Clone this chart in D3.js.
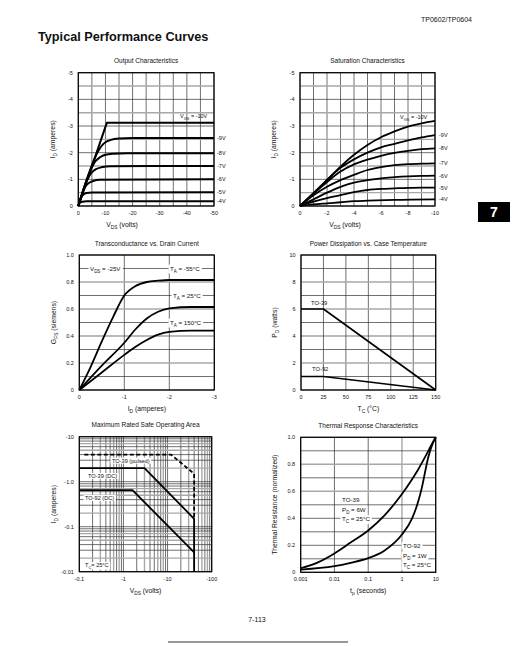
<!DOCTYPE html>
<html><head><meta charset="utf-8">
<script src="https://cdn.jsdelivr.net/npm/d3@7"></script>
<style>
body{margin:0;background:#fff}
svg{display:block}
text{font-family:"Liberation Sans",Arial,Helvetica,sans-serif;fill:#111}
</style></head>
<body><svg id="c" width="515" height="646"></svg>
<script>
// ---------- Page texts ----------
const pageHeader = "TP0602/TP0604";
const pageTitle = "Typical Performance Curves";
const pageNumber = "7-113";
const tabLabel = "7";

// ---------- Chart 1: Output Characteristics ----------
const c1XTicks = [0, -10, -20, -30, -40, -50];
const c1YTicks = [0, -1, -2, -3, -4, -5];
const c1Names = ["V{GS} = -10V", "-9V", "-8V", "-7V", "-6V", "-5V", "-4V"];
const c1V10 = [[0,0],[-10.5,-3.12],[-50,-3.12]];
const c1V9 = [[0,0],[-6,-1.78],[-7,-2.0],[-8,-2.17],[-9,-2.3],[-10,-2.39],[-12,-2.48],[-15,-2.53],[-20,-2.55],[-50,-2.55]];
const c1V8 = [[0,0],[-4.5,-1.34],[-5.5,-1.55],[-6.5,-1.7],[-8,-1.83],[-10,-1.92],[-13,-1.96],[-18,-1.98],[-50,-1.98]];
const c1V7 = [[0,0],[-3.3,-0.98],[-4,-1.12],[-5,-1.26],[-6.5,-1.38],[-8.5,-1.45],[-12,-1.49],[-50,-1.5]];
const c1V6 = [[0,0],[-2.2,-0.65],[-3,-0.78],[-4,-0.87],[-5.5,-0.94],[-8,-0.98],[-50,-1.0]];
const c1V5 = [[0,0],[-1.2,-0.35],[-2,-0.44],[-3,-0.49],[-5,-0.51],[-50,-0.52]];
const c1V4 = [[0,0],[-0.6,-0.12],[-1.5,-0.16],[-3,-0.18],[-50,-0.18]];

// ---------- Chart 2: Saturation Characteristics ----------
const c2XTicks = [0, -2, -4, -6, -8, -10];
const c2YTicks = [0, -1, -2, -3, -4, -5];
const c2Names = ["V{GS} = -10V", "-9V", "-8V", "-7V", "-6V", "-5V", "-4V"];
const c2V10 = [[0,0],[-1,-0.48],[-2,-0.98],[-3,-1.48],[-4,-1.92],[-5,-2.29],[-6,-2.58],[-7,-2.8],[-8,-2.98],[-9,-3.1],[-10,-3.19]];
const c2V9 = [[0,0],[-1,-0.48],[-2,-0.97],[-3,-1.43],[-4,-1.75],[-5,-2.0],[-6,-2.2],[-7,-2.33],[-8,-2.46],[-9,-2.57],[-10,-2.66]];
const c2V8 = [[0,0],[-1,-0.46],[-2,-0.9],[-3,-1.29],[-4,-1.56],[-5,-1.74],[-6,-1.88],[-7,-1.99],[-8,-2.07],[-9,-2.13],[-10,-2.16]];
const c2V7 = [[0,0],[-1,-0.4],[-2,-0.72],[-3,-0.97],[-4,-1.17],[-5,-1.35],[-6,-1.46],[-7,-1.53],[-8,-1.57],[-9,-1.59],[-10,-1.6]];
const c2V6 = [[0,0],[-1,-0.25],[-2,-0.5],[-3,-0.72],[-4,-0.88],[-5,-0.97],[-6,-1.04],[-7,-1.08],[-8,-1.11],[-9,-1.13],[-10,-1.14]];
const c2V5 = [[0,0],[-1,-0.16],[-2,-0.3],[-3,-0.41],[-4,-0.52],[-5,-0.6],[-6,-0.64],[-7,-0.66],[-8,-0.68],[-9,-0.69],[-10,-0.69]];
const c2V4 = [[0,0],[-1,-0.06],[-2,-0.1],[-3,-0.14],[-4,-0.18],[-5,-0.2],[-7,-0.23],[-10,-0.25]];

// ---------- Chart 3: Transconductance vs. Drain Current ----------
const c3XTicks = [0, -1, -2, -3];
const c3YTicks = [0, 0.2, 0.4, 0.6, 0.8, 1.0];
const c3TaM55 = [[0,0],[-0.25,0.17],[-0.5,0.36],[-0.75,0.54],[-1,0.7],[-1.25,0.77],[-1.5,0.8],[-1.75,0.81],[-2,0.815],[-3,0.815]];
const c3Ta25 = [[0,0],[-0.5,0.18],[-1,0.35],[-1.25,0.45],[-1.5,0.53],[-1.75,0.58],[-2,0.605],[-2.5,0.615],[-3,0.615]];
const c3Ta150 = [[0,0],[-0.5,0.13],[-1,0.26],[-1.25,0.32],[-1.5,0.37],[-1.75,0.41],[-2,0.43],[-2.5,0.44],[-3,0.44]];

// ---------- Chart 4: Power Dissipation vs. Case Temperature ----------
const c4XTicks = [0, 25, 50, 75, 100, 125, 150];
const c4YTicks = [0, 2, 4, 6, 8, 10];
const c4TO39 = [[0,6],[25,6],[150,0]];
const c4TO92 = [[0,1],[25,1],[150,0]];

// ---------- Chart 5: Maximum Rated Safe Operating Area ----------
const c5XTicks = [-0.1, -1, -10, -100];
const c5XTickText = ["-0.1", "-1", "-10", "-100"];
const c5YTicks = [-0.01, -0.1, -1, -10];
const c5YTickText = ["-0.01", "-0.1", "-1.0", "-10"];
const c5Pulsed = [[-0.13,-4],[-12,-4],[-40,-1.5],[-40,-0.15]];
const c5TO39DC = [[-0.1,-2],[-3,-2],[-40,-0.15],[-40,-0.01]];
const c5TO92DC = [[-0.1,-0.65],[-1.6,-0.65],[-40,-0.027]];

// ---------- Chart 6: Thermal Response Characteristics ----------
const c6XTicks = [0.001, 0.01, 0.1, 1, 10];
const c6XTickText = ["0.001", "0.01", "0.1", "1", "10"];
const c6YTicks = [0, 0.2, 0.4, 0.6, 0.8, 1.0];
const c6TO39 = [[0.001,0.03],[0.003,0.07],[0.01,0.14],[0.03,0.22],[0.1,0.31],[0.3,0.42],[1,0.58],[2,0.69],[3,0.76],[5,0.86],[7,0.93],[10,1.0]];
const c6TO92 = [[0.001,0.02],[0.01,0.045],[0.03,0.07],[0.1,0.105],[0.3,0.16],[1,0.28],[2,0.4],[3,0.52],[4,0.64],[5,0.76],[6,0.85],[8,0.95],[10,1.0]];

// ================= drawing =================
const svg = d3.select("#c");
svg.append("rect").attr("width",515).attr("height",646).attr("fill","#fff");

function rich(g, str, x, y, opt = {}) {
  const fs = opt.fs || 6;
  const t = g.append("text").attr("x", x).attr("y", y + fs * 0.35)
    .attr("font-size", fs).attr("text-anchor", opt.anchor || "start");
  if (opt.bold) t.attr("font-weight", "bold");
  if (opt.fill) t.style("fill", opt.fill);
  if (opt.rotate) t.attr("transform", `rotate(-90 ${x} ${y})`);
  const parts = str.split(/(\{[^}]*\})/).filter(s => s.length);
  let sub = false;
  parts.forEach(p => {
    if (p[0] === "{") {
      t.append("tspan").attr("font-size", fs * 0.72).attr("dy", fs * 0.3).text(p.slice(1, -1));
      sub = true;
    } else {
      const ts = t.append("tspan").text(p);
      if (sub) { ts.attr("dy", -fs * 0.3); sub = false; }
    }
  });
  if (opt.bg) {
    const b = t.node().getBBox();
    g.insert("rect", () => t.node()).attr("x", b.x - 1.5).attr("y", b.y)
      .attr("width", b.width + 3).attr("height", b.height).attr("fill", "#fff");
  }
  return t;
}

function chart(cfg) {
  const g = svg.append("g");
  const x = cfg.x, y = cfg.y;
  const [L, R] = x.range();
  const [B, T] = y.range();
  const gridG = g.append("g");
  cfg.xGrid.forEach(v => {
    const gray = cfg.xGray ? cfg.xGray(v) : false;
    gridG.append("line").attr("x1", x(v)).attr("x2", x(v)).attr("y1", T).attr("y2", B)
      .attr("stroke", gray ? "#a8a8a8" : "#333").attr("stroke-width", gray ? 1.4 : 0.7);
  });
  cfg.yGrid.forEach(v => {
    const gray = cfg.yGray ? cfg.yGray(v) : false;
    gridG.append("line").attr("y1", y(v)).attr("y2", y(v)).attr("x1", L).attr("x2", R)
      .attr("stroke", gray ? "#a8a8a8" : "#333").attr("stroke-width", gray ? 1.4 : 0.7);
  });
  const labG = g.append("g");
  const curveG = g.append("g");
  cfg.series.forEach(s => {
    const line = d3.line().x(d => x(d[0])).y(d => y(d[1])).curve(s.smooth ? d3.curveMonotoneX : d3.curveLinear);
    curveG.append("path").attr("d", line(s.data)).attr("fill", "none").attr("stroke", "#000")
      .attr("stroke-width", s.w || 1.8).attr("stroke-dasharray", s.dash || null)
      .attr("stroke-linejoin", "round");
  });
  g.append("rect").attr("x", L).attr("y", T).attr("width", R - L).attr("height", B - T)
    .attr("fill", "none").attr("stroke", "#000").attr("stroke-width", 1.2);
  // ticks
  cfg.xTicks.forEach((v, i) => rich(g, cfg.xTickText ? cfg.xTickText[i] : String(v), x(v), B + 7, {fs: 5.5, anchor: "middle"}));
  cfg.yTicks.forEach((v, i) => rich(g, cfg.yTickText ? cfg.yTickText[i] : String(v), L - 5.5, y(v), {fs: 5.5, anchor: "end"}));
  rich(g, cfg.title, (L + R) / 2, T - 11.5, {fs: 6.5, anchor: "middle"});
  rich(g, cfg.xTitle, cfg.xTitleX || (L + R) / 2, B + 18.5, {fs: 6.8, anchor: "middle"});
  rich(g, cfg.yTitle, L - 26, (T + B) / 2, {fs: 6.8, anchor: "middle", rotate: true});
  (cfg.labels || []).forEach(l => rich(labG === null ? g : g, l.t, l.x, l.y, {fs: l.fs || 6, anchor: l.anchor || "start", bg: l.bg}));
  return g;
}

// header
rich(svg, pageHeader, 421, 20, {fs: 7});
rich(svg, pageTitle, 38, 37, {fs: 12.7, bold: true});
rich(svg, pageNumber, 257, 620, {fs: 7, anchor: "middle"});
svg.append("line").attr("x1", 168).attr("x2", 348).attr("y1", 642).attr("y2", 642).attr("stroke", "#777").attr("stroke-width", 1.5);
svg.append("rect").attr("x", 478).attr("y", 202).attr("width", 32).attr("height", 20).attr("fill", "#000");
rich(svg, tabLabel, 494, 212, {fs: 14, bold: true, anchor: "middle", fill: "#fff"});

const halfGray = v => Math.abs(Math.round(v * 2)) % 2 === 1;
const near = arr => v => arr.some(a => Math.abs(a - v) < 1e-6);

// Chart 1
{
  const x = d3.scaleLinear().domain([0, -50]).range([78.3, 214]);
  const y = d3.scaleLinear().domain([0, -5]).range([206, 72.7]);
  const curves = [c1V10, c1V9, c1V8, c1V7, c1V6, c1V5, c1V4];
  chart({
    x, y, xGrid: d3.range(0, -50.01, -5), yGrid: d3.range(0, -5.01, -0.5), yGray: halfGray,
    xTicks: c1XTicks, yTicks: c1YTicks,
    title: "Output Characteristics", xTitle: "V{DS} (volts)", yTitle: "I{D} (amperes)", xTitleX: 122,
    series: curves.map((c, i) => ({data: c, smooth: i > 0, w: 2})),
    labels: [{t: c1Names[0], x: 180, y: 116.5, fs: 5.5}].concat(
      curves.slice(1).map((c, i) => ({t: c1Names[i + 1], x: 217, y: y(c[c.length - 1][1]), fs: 5.5})))
  });
}
// Chart 2
{
  const x = d3.scaleLinear().domain([0, -10]).range([300, 435]);
  const y = d3.scaleLinear().domain([0, -5]).range([206, 72.7]);
  const curves = [c2V10, c2V9, c2V8, c2V7, c2V6, c2V5, c2V4];
  chart({
    x, y, xGrid: d3.range(0, -10.01, -1), yGrid: d3.range(0, -5.01, -0.5), yGray: halfGray,
    xTicks: c2XTicks, yTicks: c2YTicks,
    title: "Saturation Characteristics", xTitle: "V{DS} (volts)", yTitle: "I{D} (amperes)", xTitleX: 345,
    series: curves.map(c => ({data: c, smooth: true, w: 1.8})),
    labels: [{t: c2Names[0], x: 400, y: 117, fs: 5.5}].concat(
      curves.slice(1).map((c, i) => ({t: c2Names[i + 1], x: 439, y: y(c[c.length - 1][1]), fs: 5.5})))
  });
}
// Chart 3
{
  const x = d3.scaleLinear().domain([0, -3]).range([79.3, 214.3]);
  const y = d3.scaleLinear().domain([0, 1]).range([390, 255]);
  chart({
    x, y, xGrid: [0, -1, -2, -3], yGrid: d3.range(0, 1.001, 0.1), yGray: near([0.2, 0.6, 0.8]),
    xTicks: c3XTicks, yTicks: c3YTicks, yTickText: ["0", "0.2", "0.4", "0.6", "0.8", "1.0"],
    title: "Transconductance vs. Drain Current", xTitle: "I{D} (amperes)", yTitle: "G{FS} (siemens)",
    series: [c3TaM55, c3Ta25, c3Ta150].map(c => ({data: c, smooth: true, w: 1.8})),
    labels: [
      {t: "V{DS} = -25V", x: 90, y: y(0.9), fs: 6.2, bg: true},
      {t: "T{A} = -55°C", x: 170, y: y(0.9), fs: 6.2, bg: true},
      {t: "T{A} = 25°C", x: 173, y: y(0.7), fs: 6.2, bg: true},
      {t: "T{A} = 150°C", x: 170, y: y(0.5), fs: 6.2, bg: true}
    ]
  });
}
// Chart 4
{
  const x = d3.scaleLinear().domain([0, 150]).range([301, 435.7]);
  const y = d3.scaleLinear().domain([0, 10]).range([390, 255]);
  chart({
    x, y, xGrid: d3.range(0, 150.1, 25), yGrid: d3.range(0, 10.01, 1), yGray: near([2, 6, 8]),
    xTicks: c4XTicks, yTicks: c4YTicks,
    title: "Power Dissipation vs. Case Temperature", xTitle: "T{C} (°C)", yTitle: "P{D} (watts)",
    series: [c4TO39, c4TO92].map(c => ({data: c, w: 1.6})),
    labels: [
      {t: "TO-39", x: 311, y: 302.5, fs: 5.8},
      {t: "TO-92", x: 312, y: 369, fs: 5.8}
    ]
  });
}
// Chart 5
{
  const x = d3.scaleLog().domain([-0.1, -100]).range([79.3, 211.7]);
  const y = d3.scaleLog().domain([-0.01, -10]).range([571.7, 436.7]);
  const xg = [], yg = [];
  [0.1, 1, 10].forEach(d => d3.range(1, 10).forEach(m => xg.push(-d * m)));
  xg.push(-100);
  [0.01, 0.1, 1].forEach(d => d3.range(1, 10).forEach(m => yg.push(-d * m)));
  yg.push(-10);
  const isDec = v => Math.abs(Math.log10(-v) - Math.round(Math.log10(-v))) < 1e-6;
  chart({
    x, y, xGrid: xg, yGrid: yg,
    xGray: v => !isDec(v) && [3, 6, 8].some(m => Math.abs(-v / Math.pow(10, Math.floor(Math.log10(-v) + 1e-9)) - m) < 1e-6),
    yGray: v => !isDec(v) && [2, 5, 7].some(m => Math.abs(-v / Math.pow(10, Math.floor(Math.log10(-v) + 1e-9)) - m) < 1e-6),
    xTicks: c5XTicks, xTickText: c5XTickText, yTicks: c5YTicks, yTickText: c5YTickText,
    title: "Maximum Rated Safe Operating Area", xTitle: "V{DS} (volts)", yTitle: "I{D} (amperes)",
    series: [
      {data: c5Pulsed, dash: "4,2.5", w: 1.8},
      {data: c5TO39DC, w: 1.8},
      {data: c5TO92DC, w: 1.8}
    ],
    labels: [
      {t: "TO-39 (pulsed)", x: 112, y: 460.7, fs: 5.6, bg: true},
      {t: "TO-39 (DC)", x: 88, y: 476, fs: 5.6, bg: true},
      {t: "TO-92 (DC)", x: 85, y: 498, fs: 5.6, bg: true},
      {t: "T{C}= 25°C", x: 85, y: 565, fs: 5.6, bg: true}
    ]
  });
}
// Chart 6
{
  const x = d3.scaleLog().domain([0.001, 10]).range([300.7, 435.7]);
  const y = d3.scaleLinear().domain([0, 1]).range([572.3, 437.3]);
  chart({
    x, y, xGrid: [0.001, 0.01, 0.1, 1, 10], yGrid: d3.range(0, 1.001, 0.1),
    xGray: near([1]), yGray: near([0.6, 0.8]),
    xTicks: c6XTicks, xTickText: c6XTickText, yTicks: c6YTicks, yTickText: ["0", "0.2", "0.4", "0.6", "0.8", "1.0"],
    title: "Thermal Response Characteristics", xTitle: "t{p} (seconds)", yTitle: "Thermal Resistance (normalized)",
    series: [c6TO39, c6TO92].map(c => ({data: c, smooth: true, w: 1.8})),
    labels: [
      {t: "TO-39", x: 342, y: 500, fs: 6.2, bg: true},
      {t: "P{D} = 6W", x: 342, y: 509.5, fs: 6.2, bg: true},
      {t: "T{C} = 25°C", x: 342, y: 519, fs: 6.2, bg: true},
      {t: "TO-92", x: 403, y: 546, fs: 6.2, bg: true},
      {t: "P{D} = 1W", x: 403, y: 555.5, fs: 6.2, bg: true},
      {t: "T{C} = 25°C", x: 403, y: 565, fs: 6.2, bg: true}
    ]
  });
}
</script></body></html>
